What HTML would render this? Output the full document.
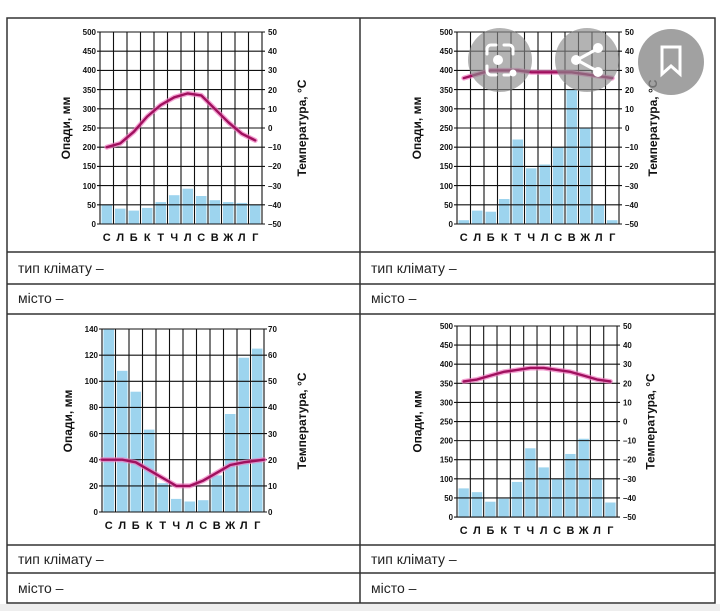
<!DOCTYPE html>
<html><head><meta charset="utf-8"><style>
html,body{margin:0;padding:0;background:#fff;}
body{width:720px;height:611px;overflow:hidden;position:relative;font-family:"Liberation Sans",sans-serif;}
svg{position:absolute;left:0;top:0;}
.t{font-size:8px;font-family:"Liberation Sans",sans-serif;fill:#111;font-weight:bold;}
.m{font-size:11px;font-weight:bold;font-family:"Liberation Sans",sans-serif;fill:#111;}
.ti{font-size:12px;font-weight:bold;font-family:"Liberation Sans",sans-serif;fill:#111;}
.r{font-size:14px;font-family:"Liberation Sans",sans-serif;fill:#222;}
.g{stroke:#111;stroke-width:1.1;fill:none;}
.b{fill:#9dd4ee;}
.l1{stroke:#f07ac0;stroke-width:5;fill:none;stroke-linejoin:round;stroke-linecap:round;opacity:.7}
.l2{stroke:#a0105e;stroke-width:2.4;fill:none;stroke-linejoin:round;stroke-linecap:round;}
</style></head><body>
<svg width="720" height="611" viewBox="0 0 720 611">
<rect x="0" y="604" width="720" height="7" fill="#eee"/>
<g stroke="#333" stroke-width="1.5" fill="none">
<rect x="7" y="18" width="708" height="585"/>
<line x1="360" y1="18" x2="360" y2="603"/>
<line x1="7" y1="252" x2="715" y2="252"/>
<line x1="7" y1="284" x2="715" y2="284"/>
<line x1="7" y1="314" x2="715" y2="314"/>
<line x1="7" y1="545" x2="715" y2="545"/>
<line x1="7" y1="573" x2="715" y2="573"/>
</g>
<text class="r" x="18" y="273">тип клімату –</text>
<text class="r" x="18" y="303">місто –</text>
<text class="r" x="371" y="273">тип клімату –</text>
<text class="r" x="371" y="303">місто –</text>
<text class="r" x="18" y="564">тип клімату –</text>
<text class="r" x="18" y="593">місто –</text>
<text class="r" x="371" y="564">тип клімату –</text>
<text class="r" x="371" y="593">місто –</text>

<g transform="translate(100,32)">
<rect class="b" x="1.5" y="172.8" width="10.5" height="19.2"/>
<rect class="b" x="15" y="176.6" width="10.5" height="15.4"/>
<rect class="b" x="28.5" y="178.6" width="10.5" height="13.4"/>
<rect class="b" x="42" y="175.9" width="10.5" height="16.1"/>
<rect class="b" x="55.5" y="170.1" width="10.5" height="21.9"/>
<rect class="b" x="69" y="163.2" width="10.5" height="28.8"/>
<rect class="b" x="82.5" y="156.7" width="10.5" height="35.3"/>
<rect class="b" x="96" y="164" width="10.5" height="28"/>
<rect class="b" x="109.5" y="168.2" width="10.5" height="23.8"/>
<rect class="b" x="123" y="170.1" width="10.5" height="21.9"/>
<rect class="b" x="136.5" y="170.9" width="10.5" height="21.1"/>
<rect class="b" x="150" y="172.8" width="10.5" height="19.2"/>
<path class="g" d="M0 0V192M13.5 0V192M27 0V192M40.5 0V192M54 0V192M67.5 0V192M81 0V192M94.5 0V192M108 0V192M121.5 0V192M135 0V192M148.5 0V192M162 0V192M-3 0H165M-3 19.2H165M-3 38.4H165M-3 57.6H165M-3 76.8H165M-3 96H165M-3 115.2H165M-3 134.4H165M-3 153.6H165M-3 172.8H165M-3 192H165"/>
<polyline class="l1" points="6.75,115.2 20.25,111.4 33.75,99.8 47.25,84.5 60.75,73 74.25,65.3 87.75,61.4 101.25,63.4 114.75,76.8 128.25,90.2 141.75,101.7 155.25,108.4"/>
<polyline class="l2" points="6.75,115.2 20.25,111.4 33.75,99.8 47.25,84.5 60.75,73 74.25,65.3 87.75,61.4 101.25,63.4 114.75,76.8 128.25,90.2 141.75,101.7 155.25,108.4"/>
<g class="t" text-anchor="end"><text x="-4" y="3">500</text><text x="-4" y="22">450</text><text x="-4" y="41">400</text><text x="-4" y="61">350</text><text x="-4" y="80">300</text><text x="-4" y="99">250</text><text x="-4" y="118">200</text><text x="-4" y="137">150</text><text x="-4" y="157">100</text><text x="-4" y="176">50</text><text x="-4" y="195">0</text></g>
<g class="t"><text x="168" y="3">50</text><text x="168" y="22">40</text><text x="168" y="41">30</text><text x="168" y="61">20</text><text x="168" y="80">10</text><text x="168" y="99">0</text><text x="168" y="118">–10</text><text x="168" y="137">–20</text><text x="168" y="157">–30</text><text x="168" y="176">–40</text><text x="168" y="195">–50</text></g>
<g class="m" text-anchor="middle"><text x="6.75" y="209">С</text><text x="20.25" y="209">Л</text><text x="33.75" y="209">Б</text><text x="47.25" y="209">К</text><text x="60.75" y="209">Т</text><text x="74.25" y="209">Ч</text><text x="87.75" y="209">Л</text><text x="101.25" y="209">С</text><text x="114.75" y="209">В</text><text x="128.25" y="209">Ж</text><text x="141.75" y="209">Л</text><text x="155.25" y="209">Г</text></g>
<text class="ti" transform="translate(-30,96) rotate(-90)" text-anchor="middle">Опади, мм</text>
<text class="ti" transform="translate(206,96) rotate(-90)" text-anchor="middle">Температура, °C</text>
</g>

<g transform="translate(457,32)">
<rect class="b" x="1.5" y="188.2" width="10.5" height="3.8"/>
<rect class="b" x="15" y="178.6" width="10.5" height="13.4"/>
<rect class="b" x="28.5" y="179.7" width="10.5" height="12.3"/>
<rect class="b" x="42" y="167" width="10.5" height="25"/>
<rect class="b" x="55.5" y="107.5" width="10.5" height="84.5"/>
<rect class="b" x="69" y="136.3" width="10.5" height="55.7"/>
<rect class="b" x="82.5" y="132.5" width="10.5" height="59.5"/>
<rect class="b" x="96" y="115.2" width="10.5" height="76.8"/>
<rect class="b" x="109.5" y="57.6" width="10.5" height="134.4"/>
<rect class="b" x="123" y="96" width="10.5" height="96"/>
<rect class="b" x="136.5" y="172.8" width="10.5" height="19.2"/>
<rect class="b" x="150" y="188.2" width="10.5" height="3.8"/>
<path class="g" d="M0 0V192M13.5 0V192M27 0V192M40.5 0V192M54 0V192M67.5 0V192M81 0V192M94.5 0V192M108 0V192M121.5 0V192M135 0V192M148.5 0V192M162 0V192M-3 0H165M-3 19.2H165M-3 38.4H165M-3 57.6H165M-3 76.8H165M-3 96H165M-3 115.2H165M-3 134.4H165M-3 153.6H165M-3 172.8H165M-3 192H165"/>
<polyline class="l1" points="6.75,46.1 20.25,42.2 33.75,38.4 47.25,38.4 60.75,38.4 74.25,40.3 87.75,40.3 101.25,40.3 114.75,40.3 128.25,42.2 141.75,44.2 155.25,46.1"/>
<polyline class="l2" points="6.75,46.1 20.25,42.2 33.75,38.4 47.25,38.4 60.75,38.4 74.25,40.3 87.75,40.3 101.25,40.3 114.75,40.3 128.25,42.2 141.75,44.2 155.25,46.1"/>
<g class="t" text-anchor="end"><text x="-4" y="3">500</text><text x="-4" y="22">450</text><text x="-4" y="41">400</text><text x="-4" y="61">350</text><text x="-4" y="80">300</text><text x="-4" y="99">250</text><text x="-4" y="118">200</text><text x="-4" y="137">150</text><text x="-4" y="157">100</text><text x="-4" y="176">50</text><text x="-4" y="195">0</text></g>
<g class="t"><text x="168" y="3">50</text><text x="168" y="22">40</text><text x="168" y="41">30</text><text x="168" y="61">20</text><text x="168" y="80">10</text><text x="168" y="99">0</text><text x="168" y="118">–10</text><text x="168" y="137">–20</text><text x="168" y="157">–30</text><text x="168" y="176">–40</text><text x="168" y="195">–50</text></g>
<g class="m" text-anchor="middle"><text x="6.75" y="209">С</text><text x="20.25" y="209">Л</text><text x="33.75" y="209">Б</text><text x="47.25" y="209">К</text><text x="60.75" y="209">Т</text><text x="74.25" y="209">Ч</text><text x="87.75" y="209">Л</text><text x="101.25" y="209">С</text><text x="114.75" y="209">В</text><text x="128.25" y="209">Ж</text><text x="141.75" y="209">Л</text><text x="155.25" y="209">Г</text></g>
<text class="ti" transform="translate(-36,96) rotate(-90)" text-anchor="middle">Опади, мм</text>
<text class="ti" transform="translate(200,96) rotate(-90)" text-anchor="middle">Температура, °C</text>
</g>

<g transform="translate(102,329)">
<rect class="b" x="1.5" y="0" width="10.5" height="183"/>
<rect class="b" x="15" y="41.8" width="10.5" height="141.2"/>
<rect class="b" x="28.5" y="62.7" width="10.5" height="120.3"/>
<rect class="b" x="42" y="100.6" width="10.5" height="82.4"/>
<rect class="b" x="55.5" y="154.2" width="10.5" height="28.8"/>
<rect class="b" x="69" y="169.9" width="10.5" height="13.1"/>
<rect class="b" x="82.5" y="172.5" width="10.5" height="10.5"/>
<rect class="b" x="96" y="171.2" width="10.5" height="11.8"/>
<rect class="b" x="109.5" y="146.4" width="10.5" height="36.6"/>
<rect class="b" x="123" y="85" width="10.5" height="98"/>
<rect class="b" x="136.5" y="28.7" width="10.5" height="154.3"/>
<rect class="b" x="150" y="19.6" width="10.5" height="163.4"/>
<path class="g" d="M0 0V183M13.5 0V183M27 0V183M40.5 0V183M54 0V183M67.5 0V183M81 0V183M94.5 0V183M108 0V183M121.5 0V183M135 0V183M148.5 0V183M162 0V183M-3 0H165M-3 26.14H165M-3 52.3H165M-3 78.4H165M-3 104.6H165M-3 130.7H165M-3 156.9H165M-3 183H165"/>
<polyline class="l1" points="0,130.7 20.25,130.7 33.75,133.3 47.25,141.2 60.75,149 74.25,156.9 87.75,156.9 101.25,151.6 114.75,143.8 128.25,136 141.75,133.3 162,130.7"/>
<polyline class="l2" points="0,130.7 20.25,130.7 33.75,133.3 47.25,141.2 60.75,149 74.25,156.9 87.75,156.9 101.25,151.6 114.75,143.8 128.25,136 141.75,133.3 162,130.7"/>
<g class="t" text-anchor="end"><text x="-4" y="3">140</text><text x="-4" y="29">120</text><text x="-4" y="55">100</text><text x="-4" y="81">80</text><text x="-4" y="108">60</text><text x="-4" y="134">40</text><text x="-4" y="160">20</text><text x="-4" y="186">0</text></g>
<g class="t"><text x="166" y="3">70</text><text x="166" y="29">60</text><text x="166" y="55">50</text><text x="166" y="81">40</text><text x="166" y="108">30</text><text x="166" y="134">20</text><text x="166" y="160">10</text><text x="166" y="186">0</text></g>
<g class="m" text-anchor="middle"><text x="6.75" y="200">С</text><text x="20.25" y="200">Л</text><text x="33.75" y="200">Б</text><text x="47.25" y="200">К</text><text x="60.75" y="200">Т</text><text x="74.25" y="200">Ч</text><text x="87.75" y="200">Л</text><text x="101.25" y="200">С</text><text x="114.75" y="200">В</text><text x="128.25" y="200">Ж</text><text x="141.75" y="200">Л</text><text x="155.25" y="200">Г</text></g>
<text class="ti" transform="translate(-30,92) rotate(-90)" text-anchor="middle">Опади, мм</text>
<text class="ti" transform="translate(204,92) rotate(-90)" text-anchor="middle">Температура, °C</text>
</g>

<g transform="translate(457,326) scale(0.988,0.995)">
<rect class="b" x="1.5" y="163.2" width="10.5" height="28.8"/>
<rect class="b" x="15" y="167" width="10.5" height="25"/>
<rect class="b" x="28.5" y="176.6" width="10.5" height="15.4"/>
<rect class="b" x="42" y="173.6" width="10.5" height="18.4"/>
<rect class="b" x="55.5" y="156.7" width="10.5" height="35.3"/>
<rect class="b" x="69" y="122.9" width="10.5" height="69.1"/>
<rect class="b" x="82.5" y="142.1" width="10.5" height="49.9"/>
<rect class="b" x="96" y="153.6" width="10.5" height="38.4"/>
<rect class="b" x="109.5" y="128.6" width="10.5" height="63.4"/>
<rect class="b" x="123" y="113.3" width="10.5" height="78.7"/>
<rect class="b" x="136.5" y="153.6" width="10.5" height="38.4"/>
<rect class="b" x="150" y="177.4" width="10.5" height="14.6"/>
<path class="g" d="M0 0V192M13.5 0V192M27 0V192M40.5 0V192M54 0V192M67.5 0V192M81 0V192M94.5 0V192M108 0V192M121.5 0V192M135 0V192M148.5 0V192M162 0V192M-3 0H165M-3 19.2H165M-3 38.4H165M-3 57.6H165M-3 76.8H165M-3 96H165M-3 115.2H165M-3 134.4H165M-3 153.6H165M-3 172.8H165M-3 192H165"/>
<polyline class="l1" points="6.75,55.7 20.25,53.8 33.75,49.9 47.25,46.1 60.75,44.2 74.25,42.2 87.75,42.2 101.25,44.2 114.75,46.1 128.25,49.9 141.75,53.8 155.25,55.7"/>
<polyline class="l2" points="6.75,55.7 20.25,53.8 33.75,49.9 47.25,46.1 60.75,44.2 74.25,42.2 87.75,42.2 101.25,44.2 114.75,46.1 128.25,49.9 141.75,53.8 155.25,55.7"/>
<g class="t" text-anchor="end"><text x="-4" y="3">500</text><text x="-4" y="22">450</text><text x="-4" y="41">400</text><text x="-4" y="61">350</text><text x="-4" y="80">300</text><text x="-4" y="99">250</text><text x="-4" y="118">200</text><text x="-4" y="137">150</text><text x="-4" y="157">100</text><text x="-4" y="176">50</text><text x="-4" y="195">0</text></g>
<g class="t"><text x="168" y="3">50</text><text x="168" y="22">40</text><text x="168" y="41">30</text><text x="168" y="61">20</text><text x="168" y="80">10</text><text x="168" y="99">0</text><text x="168" y="118">–10</text><text x="168" y="137">–20</text><text x="168" y="157">–30</text><text x="168" y="176">–40</text><text x="168" y="195">–50</text></g>
<g class="m" text-anchor="middle"><text x="6.75" y="209">С</text><text x="20.25" y="209">Л</text><text x="33.75" y="209">Б</text><text x="47.25" y="209">К</text><text x="60.75" y="209">Т</text><text x="74.25" y="209">Ч</text><text x="87.75" y="209">Л</text><text x="101.25" y="209">С</text><text x="114.75" y="209">В</text><text x="128.25" y="209">Ж</text><text x="141.75" y="209">Л</text><text x="155.25" y="209">Г</text></g>
<text class="ti" transform="translate(-36,96) rotate(-90)" text-anchor="middle">Опади, мм</text>
<text class="ti" transform="translate(200,96) rotate(-90)" text-anchor="middle">Температура, °C</text>
</g>

<g>
<circle cx="500" cy="60" r="32" fill="#8a8a8a" fill-opacity="0.65"/>
<circle cx="587" cy="60" r="32" fill="#8a8a8a" fill-opacity="0.65"/>
<circle cx="671" cy="62" r="33" fill="#8a8a8a" fill-opacity="0.8"/>
<g stroke="#fff" stroke-width="3" fill="none" stroke-linecap="round">
<path d="M487 54v-5a4 4 0 0 1 4-4h5M504 45h5a4 4 0 0 1 4 4v5M487 66v5a4 4 0 0 0 4 4h5M504 75h5"/>
<path d="M577 60l20-11M577 60l20 11"/>
<path d="M662 47h18v27l-9-8l-9 8z"/>
</g>
<circle cx="498" cy="60" r="5" fill="#fff"/>
<circle cx="513" cy="73" r="3.5" fill="#fff"/>
<circle cx="576" cy="60" r="5" fill="#fff"/>
<circle cx="598" cy="48" r="5" fill="#fff"/>
<circle cx="598" cy="72" r="5" fill="#fff"/>
</g>
</svg>
</body></html>
